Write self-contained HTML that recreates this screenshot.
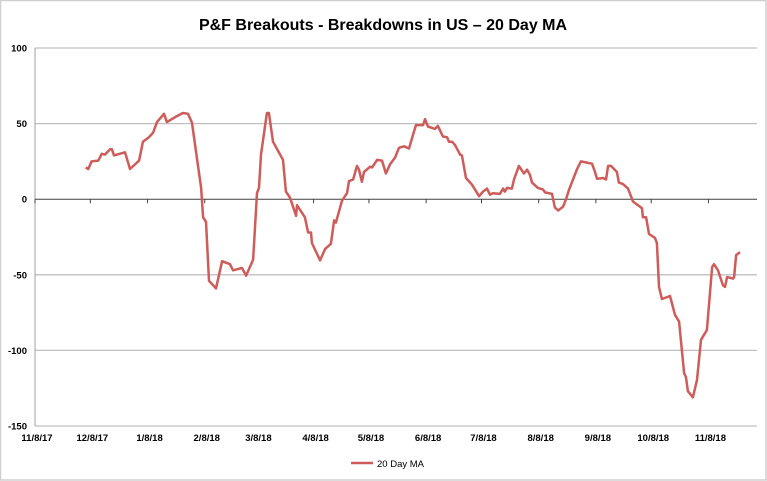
<!DOCTYPE html>
<html><head><meta charset="utf-8"><style>
body{margin:0;background:#fff}
svg{display:block;font-family:"Liberation Sans",sans-serif}
</style></head><body>
<svg id="chart" width="767" height="481">
<rect x="0.5" y="0.5" width="765.5" height="479.5" fill="#fff" stroke="#d0d0d0" stroke-width="1.5"/>
<text x="383" y="30" text-anchor="middle" font-size="16" font-weight="bold" fill="#000">P&amp;F Breakouts - Breakdowns in US – 20 Day MA</text>
<g id="grid"></g><g id="yticks"></g><g id="xaxis"></g><g id="series"></g>
<g>
<line x1="351" y1="463" x2="373" y2="463" stroke="#cd5c5a" stroke-width="2.5"/>
<text x="377" y="467" font-size="9.5" fill="#000">20 Day MA</text>
</g>
</svg>
<script>
const yTicks=[100,50,0,-50,-100,-150];
const xTickDays=[0,30,61,92,120,151,181,212,242,273,304,334,365];
const xTickLabels=["11/8/17","12/8/17","1/8/18","2/8/18","3/8/18","4/8/18","5/8/18","6/8/18","7/8/18","8/8/18","9/8/18","10/8/18","11/8/18"];
const dayOffsets=[27.5,28.9,30.7,34.3,36.2,37.9,40.7,41.7,42.8,48.8,51.5,56.4,58.5,61.8,64,66.1,69.9,71.5,77,80.2,82.9,85.1,87.3,90,91.1,92.7,94.3,98.1,101.4,105.7,107.3,112.2,114.4,118.2,120.3,121.4,122.5,125.7,126.8,129,134.4,136,138.2,141.5,142,146.3,148,149.6,150.1,154.5,157.2,160.4,162.1,163.1,166.4,169.1,170.2,172.4,174.5,175.6,177.2,178.3,181.6,182.7,185.4,188.1,190.2,192.4,195.1,197.3,200,202.7,204.9,206.5,210.3,211.4,213,216.8,218.4,221.1,223.3,224.4,226,227.6,230.4,231.4,233.6,236.9,240.7,242.8,245,246.6,248.2,252,253.7,254.7,255.8,258.5,259.6,262.3,265,266.7,268.3,269.4,272.6,275.3,276.4,280.2,281.8,283.5,286.2,287.8,289.4,293.8,295.9,301.9,303.5,304.6,307.9,309.5,310.6,312.2,315.4,316.5,318.7,321.4,324.1,326.3,329,329.5,331.2,332.8,336,337.1,338.2,339.8,344.2,346.9,349.1,351.8,352.8,353.9,356.6,358.8,361,364.2,367,368,370.2,372.9,374,375.1,378.3,378.9,380,382.1];
const maValues=[21,20,25,25.5,30,29.5,33,33,29,31,20,25.5,38,41,44,51,56.5,51,55,57,56.5,50.5,31,7.6,-12,-15,-54,-59,-41,-43,-47,-45.5,-50.5,-40,4,7.6,29.5,57,57,38,26,5,1,-11,-4,-12,-22,-22,-29,-40.5,-33,-29.5,-14,-15.5,-1,4,12,13,22,19.5,11.5,18,21.5,21,26,25.5,17,23,27.5,34,35,33.5,42.5,49,49,53,48,46.5,48.5,41.5,41,38,38,36,29.5,29,14,9.5,2,5,7,3,4,3.5,7,5,7.5,7,13,22,17,19.5,16,11,7.5,6.5,4.5,3.5,-5.5,-7.5,-5,0,6,20,25,23.5,18,13.5,14,13,22,22,18,11,10,7,-1.5,-3.5,-6,-12,-12,-23,-25.5,-29,-58,-66,-64,-76.5,-81,-115,-117.5,-127,-131,-119.5,-93,-86.5,-45,-43,-47,-57,-58,-51.5,-52.5,-51.5,-37,-35];
const NS="http://www.w3.org/2000/svg";
const X0=35,X1=757,PXD=1.845;
function xs(d){return X0+d*PXD;}
function ys(v){return 199.2-v*1.512;}
function mk(tag,attrs,parent){const e=document.createElementNS(NS,tag);for(const k in attrs)e.setAttribute(k,attrs[k]);parent.appendChild(e);return e;}
const grid=document.getElementById('grid'),yt=document.getElementById('yticks'),xa=document.getElementById('xaxis'),ser=document.getElementById('series');
yTicks.forEach(v=>{
  if(v!==0){const l=mk('line',{x1:X0,x2:X1,y1:ys(v),y2:ys(v),stroke:'#c0c0c0','stroke-width':1.3},grid);
  
  }
  const t=mk('text',{x:27,y:ys(v)+3.5,'text-anchor':'end','font-size':9.5,'font-weight':'bold',fill:'#000'},yt);
  t.textContent=v;
  
  
});
const ya=mk('line',{x1:X0,x2:X0,y1:ys(100),y2:ys(-150),stroke:'#a0a0a0','stroke-width':1},grid);


const zl=mk('line',{x1:X0,x2:X1,y1:ys(0),y2:ys(0),stroke:'#404040','stroke-width':1},xa);


xTickDays.forEach((d,i)=>{
  const tk=mk('line',{x1:xs(d),x2:xs(d),y1:ys(0),y2:ys(0)+4,stroke:'#404040','stroke-width':1},xa);
  
  
  const t=mk('text',{x:xs(d)+2,y:441,'text-anchor':'middle','font-size':9.5,'font-weight':'bold',fill:'#000'},xa);
  t.textContent=xTickLabels[i];
  
  
});
const pts=dayOffsets.map((d,i)=>xs(d).toFixed(1)+','+ys(maValues[i]).toFixed(1)).join(' ');
const pl=mk('polyline',{points:pts,fill:'none',stroke:'#cd5c5a','stroke-width':2.5,'stroke-linejoin':'round'},ser);


</script>
</body></html>
